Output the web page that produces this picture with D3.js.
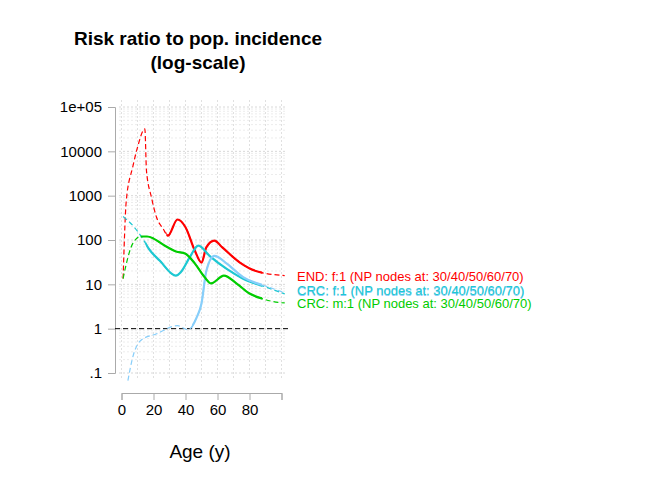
<!DOCTYPE html>
<html><head><meta charset="utf-8">
<script src="https://cdn.jsdelivr.net/npm/d3@7"></script>
<style>body{margin:0;background:#fff}text{font-family:Arial,"Liberation Sans",sans-serif}</style>
</head><body><svg id="c" width="672" height="480"></svg>
<script>
const yTicks=[0.1,1,10,100,1000,10000,100000];
const yTickLabels=[".1","1","10","100","1000","10000","1e+05"];
const xTicks=[0,20,40,60,80,100];
const xTickLabels=["0","20","40","60","80",""];
const endAge=[1,3,7,10,14.6,15.6,18.7,21.9,26,29,35,40,45.8,50,53,58,63,74,84,102];
const endVal=[13.5,780,4400,12300,32000,3700,920,325,180,125,290,194,58,31,68,97,68,31,20,15.7];
const crcfAge=[1,8,14,17,24,34,37,42.7,48,55,66,76,90.6,102];
const crcfVal=[340,194,97,64,34,15.7,18.7,41,75,44,22,13.4,8.6,6.1];
const crcf2Age=[4,7,12,22,35,41.5,47,50,53,58,66,76,90.6,102];
const crcf2Val=[0.067,0.225,0.54,0.77,1.17,0.95,1.8,3.7,20,44,29,14.5,9,6.5];
const crcmAge=[1,3,7,12,16,28,34,40,46,52,56,64,72,80,88,98,102];
const crcmVal=[13.5,29,83,120,120,71,55,49,29,14.4,10.5,15.7,10.4,6.2,4.75,3.9,3.8];
const labels=["END: f:1 (NP nodes at: 30/40/50/60/70)","CRC: f:1 (NP nodes at: 30/40/50/60/70)","CRC: f:1 (NP nodes at: 30/40/50/60/70)","CRC: m:1 (NP nodes at: 30/40/50/60/70)"];

const svg=d3.select("#c");
const x=d3.scaleLinear().domain([0,100]).range([121.5,281.5]);
const y=d3.scaleLog().domain([0.1,100000]).range([373,107]);
const g=svg.append("g");
d3.range(0,101,10).forEach(a=>g.append("line").attr("x1",x(a)).attr("x2",x(a)).attr("y1",100).attr("y2",378).attr("stroke","#e0e0e0").attr("stroke-dasharray","2,2"));
for(let e=-1;e<5;e++)for(let m=1;m<10;m++){const v=m*Math.pow(10,e);g.append("line").attr("x1",119).attr("x2",285).attr("y1",y(v)).attr("y2",y(v)).attr("stroke",m==1?"#d8d8d8":"#ececec").attr("stroke-dasharray","2,2");}
g.append("line").attr("x1",119).attr("x2",285).attr("y1",y(100000)).attr("y2",y(100000)).attr("stroke","#d8d8d8").attr("stroke-dasharray","2,2");
const ya=svg.append("g").attr("transform","translate(115,0)").call(d3.axisLeft(y).tickValues(yTicks).tickFormat((d,i)=>yTickLabels[i]).tickSize(7).tickPadding(6));
const xa=svg.append("g").attr("transform","translate(0,393)").call(d3.axisBottom(x).tickValues(xTicks).tickFormat((d,i)=>xTickLabels[i]).tickSize(7).tickPadding(4));
[ya,xa].forEach(a=>{a.selectAll("path,line").attr("stroke","#aaa");a.selectAll("text").attr("font-size",15).attr("fill","#000");});
svg.append("line").attr("x1",115).attr("x2",288).attr("y1",y(1)).attr("y2",y(1)).attr("stroke","#000").attr("stroke-dasharray","5,3");
const defs=svg.append("defs");
function series(ages,vals,col,s1,s2,w,id){
  const pts=ages.map((a,i)=>[x(a),y(vals[i])]);
  const ln=d3.line().curve(d3.curveMonotoneX);
  defs.append("clipPath").attr("id",id).append("rect").attr("x",x(s1)).attr("width",x(s2)-x(s1)).attr("y",0).attr("height",480);
  svg.append("path").attr("d",ln(pts)).attr("fill","none").attr("stroke",col).attr("stroke-width",1.2).attr("stroke-dasharray","5,3");
  svg.append("path").attr("d",ln(pts)).attr("fill","none").attr("stroke",col).attr("stroke-width",w).attr("clip-path","url(#"+id+")");
}
series(endAge,endVal,"#ff0000",28,88,2.2,"c1");
series(crcfAge,crcfVal,"#1ec8d2",15,88,2.2,"c2");
series(crcf2Age,crcf2Val,"#87cefa",44,88,2.2,"c3");
series(crcmAge,crcmVal,"#00cc00",12,88,2.2,"c4");
const lc=["#ff0000","#87cefa","#1ec8d2","#00cc00"],ly=[281,296,295,308];
labels.forEach((t,i)=>svg.append("text").attr("x",297).attr("y",ly[i]).attr("font-size",13).attr("fill",lc[i]).text(t));
svg.append("text").attr("x",198).attr("y",45).attr("text-anchor","middle").attr("font-size",19).attr("font-weight","bold").text("Risk ratio to pop. incidence");
svg.append("text").attr("x",198).attr("y",69).attr("text-anchor","middle").attr("font-size",19).attr("font-weight","bold").text("(log-scale)");
svg.append("text").attr("x",200).attr("y",458).attr("text-anchor","middle").attr("font-size",19).text("Age (y)");
</script></body></html>
